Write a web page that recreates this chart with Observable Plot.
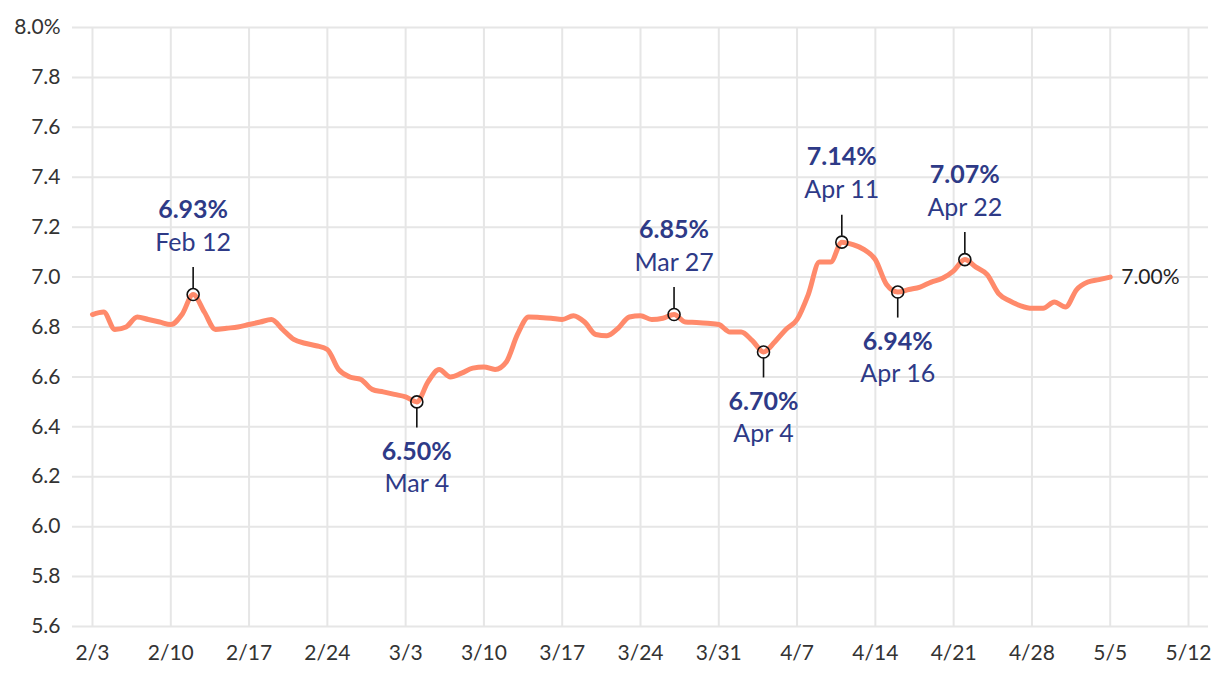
<!DOCTYPE html>
<html>
<head>
<meta charset="utf-8">
<script src="https://cdn.jsdelivr.net/npm/d3@7"></script>
<script src="https://cdn.jsdelivr.net/npm/@observablehq/plot@0.6"></script>
<style>
  html, body { margin: 0; padding: 0; background: #fff; }
  #chart svg { display: block; }
</style>
</head>
<body>
<div id="chart"></div>
<script>
// ---- data ----
const startDate = "2025-02-03";
const rates = [
  6.85, 6.86, 6.79, 6.80, 6.84, 6.83, 6.82, 6.81, 6.85, 6.93, 6.86, 6.79, 6.795, 6.80,
  6.81, 6.82, 6.83, 6.79, 6.75, 6.735, 6.725, 6.71, 6.63, 6.60, 6.59, 6.55,
  6.54, 6.53, 6.52, 6.50, 6.58, 6.63, 6.60, 6.615, 6.635, 6.64, 6.63, 6.66, 6.77, 6.84,
  6.838, 6.835, 6.83, 6.845, 6.82, 6.77, 6.765, 6.795, 6.84, 6.845, 6.83, 6.835, 6.85,
  6.82, 6.818, 6.815, 6.81,
  6.78, 6.78, 6.745, 6.70, 6.74, 6.79, 6.83, 6.93, 7.06, 7.06, 7.14, 7.13, 7.11, 7.07,
  6.97, 6.94, 6.95, 6.96, 6.98, 6.995, 7.025, 7.07, 7.04, 7.01, 6.935, 6.905, 6.885,
  6.875, 6.875, 6.90,
  6.88, 6.95, 6.98, 6.99, 7.00
];
const xTicks = ["2025-02-03","2025-02-10","2025-02-17","2025-02-24","2025-03-03","2025-03-10",
  "2025-03-17","2025-03-24","2025-03-31","2025-04-07","2025-04-14","2025-04-21","2025-04-28",
  "2025-05-05","2025-05-12"];
const yTicks = [5.6, 5.8, 6.0, 6.2, 6.4, 6.6, 6.8, 7.0, 7.2, 7.4, 7.6, 7.8, 8.0];
const annDates  = ["2025-02-12","2025-03-04","2025-03-27","2025-04-04","2025-04-11","2025-04-16","2025-04-22"];
const annValues = [6.93, 6.50, 6.85, 6.70, 7.14, 6.94, 7.07];
const annLabels = ["Feb 12","Mar 4","Mar 27","Apr 4","Apr 11","Apr 16","Apr 22"];
const annSide   = ["above","below","above","below","above","below","above"];
const lastLabel = "7.00%";

// ---- build tables ----
const parse = d3.utcParse("%Y-%m-%d");
const t0 = parse(startDate);
const series = rates.map((v, i) => ({date: d3.utcDay.offset(t0, i), rate: v}));
const ticksX = xTicks.map(parse);
const ann = annDates.map((d, i) => ({date: parse(d), rate: annValues[i], label: annLabels[i],
  pct: annValues[i].toFixed(2) + "%", side: annSide[i]}));
const above = ann.filter(d => d.side === "above");
const below = ann.filter(d => d.side === "below");
const last = series[series.length - 1];

const navy = "#2e3a87";
const line = "#ff8a6b";
const grid = "#e6e6e6";
const font = "Lato, 'Open Sans', sans-serif";

const chart = Plot.plot({
  width: 1220,
  height: 678,
  marginLeft: 72,
  marginRight: 12,
  marginTop: 27,
  marginBottom: 52,
  style: {fontFamily: font, fontSize: "21px", color: "#333", background: "#fff"},
  x: {type: "utc", domain: [new Date(Date.UTC(2025,1,1,5,6)), new Date(Date.UTC(2025,4,13,18,54))]},
  y: {domain: [5.6, 8.0]},
  marks: [
    Plot.ruleX(ticksX, {stroke: grid, strokeWidth: 2}),
    Plot.ruleY(yTicks, {stroke: grid, strokeWidth: 2}),
    Plot.axisX({ticks: ticksX, tickFormat: d3.utcFormat("%-m/%-d"), tickSize: 0, tickPadding: 19,
      label: null, fontSize: 21, fill: "#333"}),
    Plot.axisY({ticks: yTicks, tickFormat: d => d === 8 ? "8.0%" : d.toFixed(1), tickSize: 0,
      tickPadding: 12, label: null, fontSize: 21, fill: "#333"}),
    Plot.line(series, {x: "date", y: "rate", stroke: line, strokeWidth: 5, curve: "monotone-x",
      strokeLinecap: "round", strokeLinejoin: "round"}),
    Plot.ruleX(above, {x: "date", y1: "rate", y2: "rate", insetTop: -27, insetBottom: 6, stroke: "#111", strokeWidth: 1.6}),
    Plot.ruleX(below, {x: "date", y1: "rate", y2: "rate", insetTop: 6, insetBottom: -26, stroke: "#111", strokeWidth: 1.6}),
    Plot.dot(ann, {x: "date", y: "rate", r: 6, stroke: "#111", strokeWidth: 1.6, fill: "none"}),
    Plot.text(above, {x: "date", y: "rate", text: "pct", dy: -85, fill: navy, fontWeight: "bold", fontSize: 25}),
    Plot.text(above, {x: "date", y: "rate", text: "label", dy: -52, fill: navy, fontSize: 25}),
    Plot.text(below, {x: "date", y: "rate", text: "pct", dy: 50, fill: navy, fontWeight: "bold", fontSize: 25}),
    Plot.text(below, {x: "date", y: "rate", text: "label", dy: 82, fill: navy, fontSize: 25}),
    Plot.text([last], {x: "date", y: "rate", text: () => lastLabel, dx: 11, textAnchor: "start", fill: "#222", fontSize: 21})
  ]
});
document.getElementById("chart").appendChild(chart);
</script>
</body>
</html>
